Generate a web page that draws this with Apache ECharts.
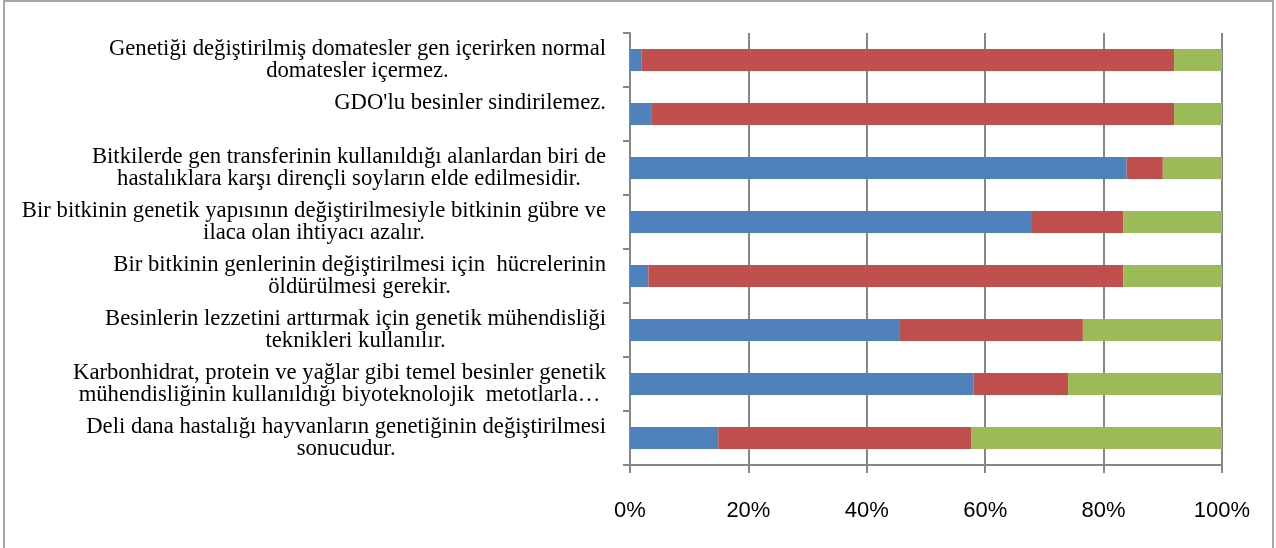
<!DOCTYPE html>
<html>
<head>
<meta charset="utf-8">
<script src="https://cdn.jsdelivr.net/npm/echarts@6/dist/echarts.min.js"></script>
<style>
  html, body { margin: 0; padding: 0; background: #fff; }
  #frame {
    position: absolute; left: 3px; top: 0; width: 1271px; height: 560px;
    border: 2px solid #a6a6a6; box-sizing: border-box;
  }
  #chart { position: absolute; left: 0; top: 0; width: 1276px; height: 548px; }
</style>
</head>
<body>
<div id="frame"></div>
<div id="chart"></div>
<script>
// soru maddeleri (yukaridan asagiya)
const categories = [
  'Genetiği değiştirilmiş domatesler gen içerirken normal\ndomatesler içermez.',
  "GDO'lu besinler sindirilemez.\n",
  'Bitkilerde gen transferinin kullanıldığı alanlardan biri de\nhastalıklara karşı dirençli soyların elde edilmesidir.',
  'Bir bitkinin genetik yapısının değiştirilmesiyle bitkinin gübre ve\nilaca olan ihtiyacı azalır.',
  'Bir bitkinin genlerinin değiştirilmesi için  hücrelerinin\nöldürülmesi gerekir.',
  'Besinlerin lezzetini arttırmak için genetik mühendisliği\nteknikleri kullanılır.',
  'Karbonhidrat, protein ve yağlar gibi temel besinler genetik\nmühendisliğinin kullanıldığı biyoteknolojik  metotlarla…',
  'Deli dana hastalığı hayvanların genetiğinin değiştirilmesi\nsonucudur.'
]
const blueData = [1.9, 3.7, 83.9, 67.9, 3.1, 45.6, 58.0, 14.9]
const redData = [90.0, 88.2, 6.1, 15.4, 80.2, 30.9, 16.0, 42.8]
const greenData = [8.1, 8.1, 10.0, 16.7, 16.7, 23.5, 26.0, 42.3]
const xTicks = [0, 20, 40, 60, 80, 100]

const chart = echarts.init(document.getElementById('chart'))
const gray = '#868686'
const option = {
  animation: false,
  color: ['#4F81BD', '#C0504D', '#9BBB59'],
  grid: { left: 630, right: 54, top: 33, bottom: 83 },
  xAxis: {
    type: 'value',
    min: xTicks[0],
    max: xTicks[xTicks.length - 1],
    interval: 20,
    axisLine: { show: true, lineStyle: { color: gray, width: 2 } },
    axisTick: { show: true, length: 8, lineStyle: { color: gray, width: 2 } },
    splitLine: { show: true, lineStyle: { color: gray, width: 2 } },
    axisLabel: {
      formatter: '{value}%',
      margin: 35,
      color: '#000',
      fontSize: 22,
      fontFamily: 'Liberation Sans'
    }
  },
  yAxis: {
    type: 'category',
    inverse: true,
    data: categories,
    axisLine: { show: true, lineStyle: { color: gray, width: 2 } },
    axisTick: { show: true, length: 7, lineStyle: { color: gray, width: 2 } },
    axisLabel: {
      margin: 24,
      align: 'right',
      formatter: function (v) {
        return v.split('\n').map(s => '{c|' + (s || ' ') + '}').join('\n')
      },
      rich: {
        c: {
          align: 'center',
          color: '#000',
          fontSize: 22.7,
          lineHeight: 22.5,
          fontFamily: 'Liberation Serif'
        }
      }
    }
  },
  series: [
    { name: 'a', type: 'bar', stack: 'total', barWidth: 22, data: blueData },
    { name: 'b', type: 'bar', stack: 'total', barWidth: 22, data: redData },
    { name: 'c', type: 'bar', stack: 'total', barWidth: 22, data: greenData }
  ]
}
chart.setOption(option)
</script>
</body>
</html>
